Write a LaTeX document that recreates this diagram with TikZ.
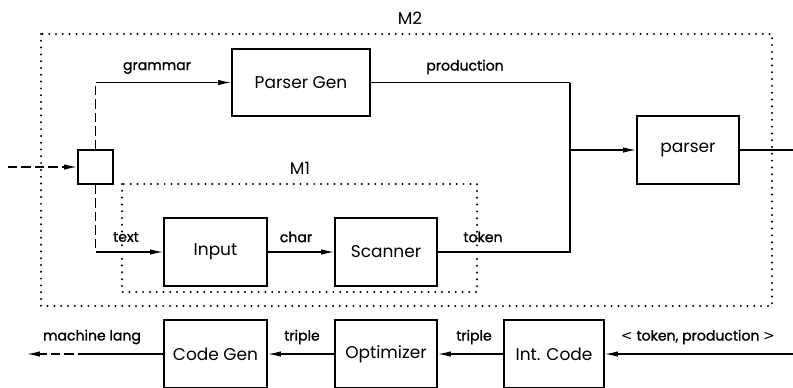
\documentclass[tikz,border=0pt]{standalone}
\usepackage{fontspec}
\setmainfont{Poppins}
\newfontfamily\lblfont{Poppins}[FakeBold=1.2]
\newfontfamily\symfont{DejaVu Sans}
\usetikzlibrary{arrows.meta}
\begin{document}
\begin{tikzpicture}[x=0.03cm,y=-0.03cm,
  box/.style={draw,line width=1.6pt,inner sep=0pt,font=\fontsize{14.5}{16}\selectfont},
  lbl/.style={inner sep=0pt,font=\lblfont\fontsize{12}{14}\selectfont},
  conn/.style={line width=1pt},
  tip/.style={-{Latex[length=11pt,width=4.6pt]}},
  arr/.style={conn,tip},
  dashln/.style={conn,dash pattern=on 8pt off 3.5pt},
  dotbox/.style={line width=1.9pt,line cap=round,dash pattern=on 0pt off 5.8pt}]
\useasboundingbox (0,0) rectangle (793,387);
\clip (0,0) rectangle (793,387);

% module frames
\draw[dotbox] (41,34) rectangle (772,306);
\draw[dotbox] (122,184) rectangle (477,292);
\node[lbl,font=\fontsize{14.5}{16}\selectfont] (m2) at (410,18) {M2};
\node[lbl,font=\fontsize{14.5}{16}\selectfont] (m1) at (300,168) {M1};

% boxes
\node[box,minimum width=1.05cm,minimum height=1.02cm] (sq) at (95.5,167) {};
\node[box,minimum width=4.14cm,minimum height=2.01cm] (pgen) at (301,82.5) {Parser Gen};
\node[box,minimum width=3.06cm,minimum height=2.04cm] (parser) at (688,150) {parser};
\node[box,minimum width=3.09cm,minimum height=2.04cm] (input) at (215.5,252) {Input};
\node[box,minimum width=3.06cm,minimum height=2.04cm] (scanner) at (386,252) {Scanner};
\node[box,minimum width=3.09cm,minimum height=2.04cm] (codegen) at (215.5,354) {Code Gen};
\node[box,minimum width=3.06cm,minimum height=2.04cm] (optim) at (386,354) {Optimizer};
\node[box,minimum width=3.0cm,minimum height=2.04cm] (intcode) at (554,354) {Int. Code};

% routing points
\coordinate (src) at (8,167);
\coordinate (gcorner) at (95.5,82.5);
\coordinate (tcorner) at (95.5,252);
\coordinate (jtop) at (570,82.5);
\coordinate (jmid) at (570,150);
\coordinate (pout) at (793,150);
\coordinate (tin) at (793,354);
\coordinate (mlsolid) at (87,354);
\coordinate (mlend) at (27,354);

% connectors
\draw[dashln,tip] (src) -- (sq.west);
\draw[dashln] (sq.north) -- (gcorner);
\draw[arr] (gcorner) -- (pgen.west);
\draw[dashln] (sq.south) -- (tcorner);
\draw[arr] (tcorner) -- (input.west);
\draw[arr] (input.east) -- (scanner.west);
\draw[conn] (scanner.east) -| (jtop);
\draw[conn] (pgen.east) -- (jtop);
\draw[arr] (jmid) -- (parser.west);
\draw[conn] (parser.east) -- (pout);
\draw[arr] (tin) -- (intcode.east);
\draw[arr] (intcode.west) -- (optim.east);
\draw[arr] (optim.west) -- (codegen.east);
\draw[conn] (codegen.west) -- (mlsolid);
\draw[dashln,tip] (mlsolid) -- (mlend);

% connector labels
\node[lbl] (lgram) at (157,68) {grammar};
\node[lbl] (lprod) at (465,67) {production};
\node[lbl] (ltext) at (126,237) {text};
\node[lbl] (lchar) at (296,237) {char};
\node[lbl] (ltok) at (483,237) {token};
\node[lbl] (lml) at (92,337) {machine lang};
\node[lbl] (ltr1) at (302,337) {triple};
\node[lbl] (ltr2) at (474,337) {triple};
\node[lbl] (ltp) at (698,337) {{\symfont <} token, production {\symfont >}};
\end{tikzpicture}
\end{document}
